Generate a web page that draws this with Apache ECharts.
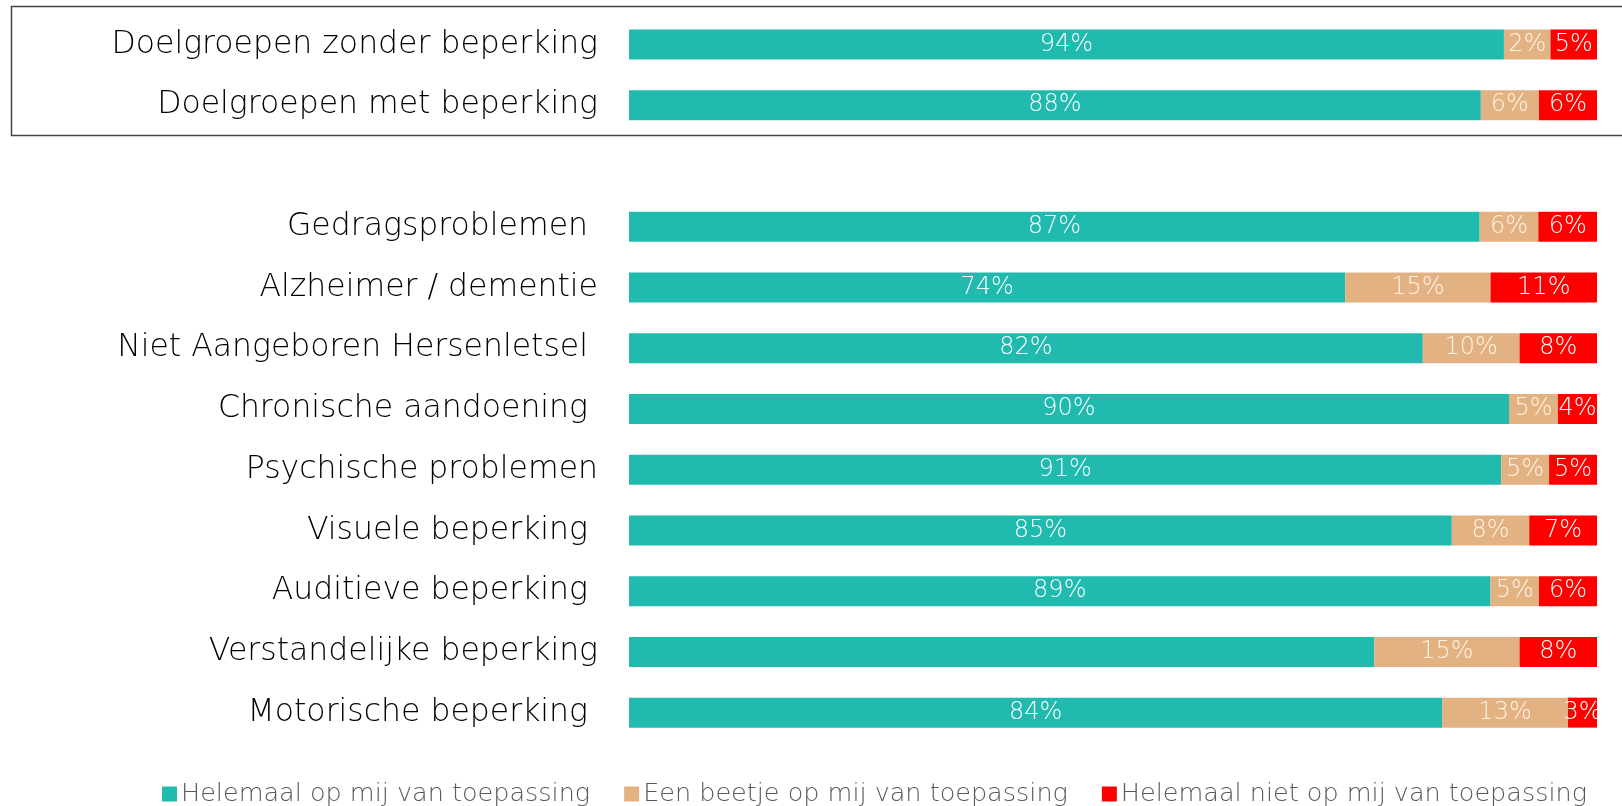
<!DOCTYPE html>
<html><head><meta charset="utf-8">
<script src="https://cdn.jsdelivr.net/npm/echarts@6/dist/echarts.min.js"></script>
<style>html,body{margin:0;padding:0;background:#fff}#c{width:1622px;height:806px}</style>
</head><body><div id="c"></div>
<script>
const categories = ['Doelgroepen zonder beperking', 'Doelgroepen met beperking', '',
  'Gedragsproblemen ', 'Alzheimer / dementie', 'Niet Aangeboren Hersenletsel ',
  'Chronische aandoening ', 'Psychische problemen', 'Visuele beperking ',
  'Auditieve beperking ', 'Verstandelijke beperking', 'Motorische beperking '];
const seriesNames = ['Helemaal op mij van toepassing', 'Een beetje op mij van toepassing', 'Helemaal niet op mij van toepassing'];
const fully = [94, 88, null, 87, 74, 82, 90, 91, 85, 89, 77, 84];
const bit   = [5, 6, null, 6, 15, 10, 5, 5, 8, 5, 15, 13];
const notAt = [5, 6, null, 6, 11, 8, 4, 5, 7, 6, 8, 3];
const bitLabels = ['2%', '6%', '', '6%', '15%', '10%', '5%', '5%', '8%', '5%', '15%', '13%'];
const hiddenFullyLabel = [10];
const colors = ['#21BAAE', '#E3B283', '#FF0000'];

const raw = [fully, bit, notAt];
const sums = categories.map((c, i) => (fully[i] || 0) + (bit[i] || 0) + (notAt[i] || 0));
const FONT = 'DejaVu Sans';

const series = raw.map((arr, s) => ({
  name: seriesNames[s],
  type: 'bar',
  stack: 'total',
  barWidth: 30,
  itemStyle: { color: colors[s] },
  label: {
    show: true, position: 'inside', color: s === 1 ? '#FFF3E3' : '#FFFFFF',
    fontFamily: FONT, fontWeight: 200, fontSize: 24,
    formatter: p => s === 1 ? bitLabels[p.dataIndex] : (arr[p.dataIndex] + '%')
  },
  data: arr.map((v, i) => {
    if (v == null) return null;
    const item = { value: v / sums[i] * 100 };
    if (s === 0 && hiddenFullyLabel.includes(i)) item.label = { show: false };
    if (s === 1 && i === 0) item.itemStyle = { borderColor: colors[1], borderWidth: 8 };
    return item;
  })
}));

const chart = echarts.init(document.getElementById('c'));
chart.setOption({
  animation: false,
  grid: { left: 629, right: 25, top: 14, bottom: 63 },
  xAxis: { type: 'value', min: 0, max: 100, show: false },
  yAxis: {
    type: 'category', data: categories, inverse: true,
    axisLine: { show: false }, axisTick: { show: false },
    axisLabel: { fontFamily: FONT, fontWeight: 200, fontSize: 31.5, color: '#000', margin: 31, padding: [4, 0, 0, 0] }
  },
  legend: {
    left: 157, top: 776, icon: 'rect', itemWidth: 15, itemHeight: 15, itemGap: 34,
    textStyle: { fontFamily: FONT, fontWeight: 200, fontSize: 25.5, color: '#595959', padding: [0, 0, 0, -1] },
    data: seriesNames
  },
  graphic: [{
    type: 'rect', shape: { x: 11.5, y: 6.5, width: 1640, height: 129 },
    style: { fill: 'none', stroke: '#444', lineWidth: 1.5 }, z: 10
  }],
  series: series
});
</script></body></html>
